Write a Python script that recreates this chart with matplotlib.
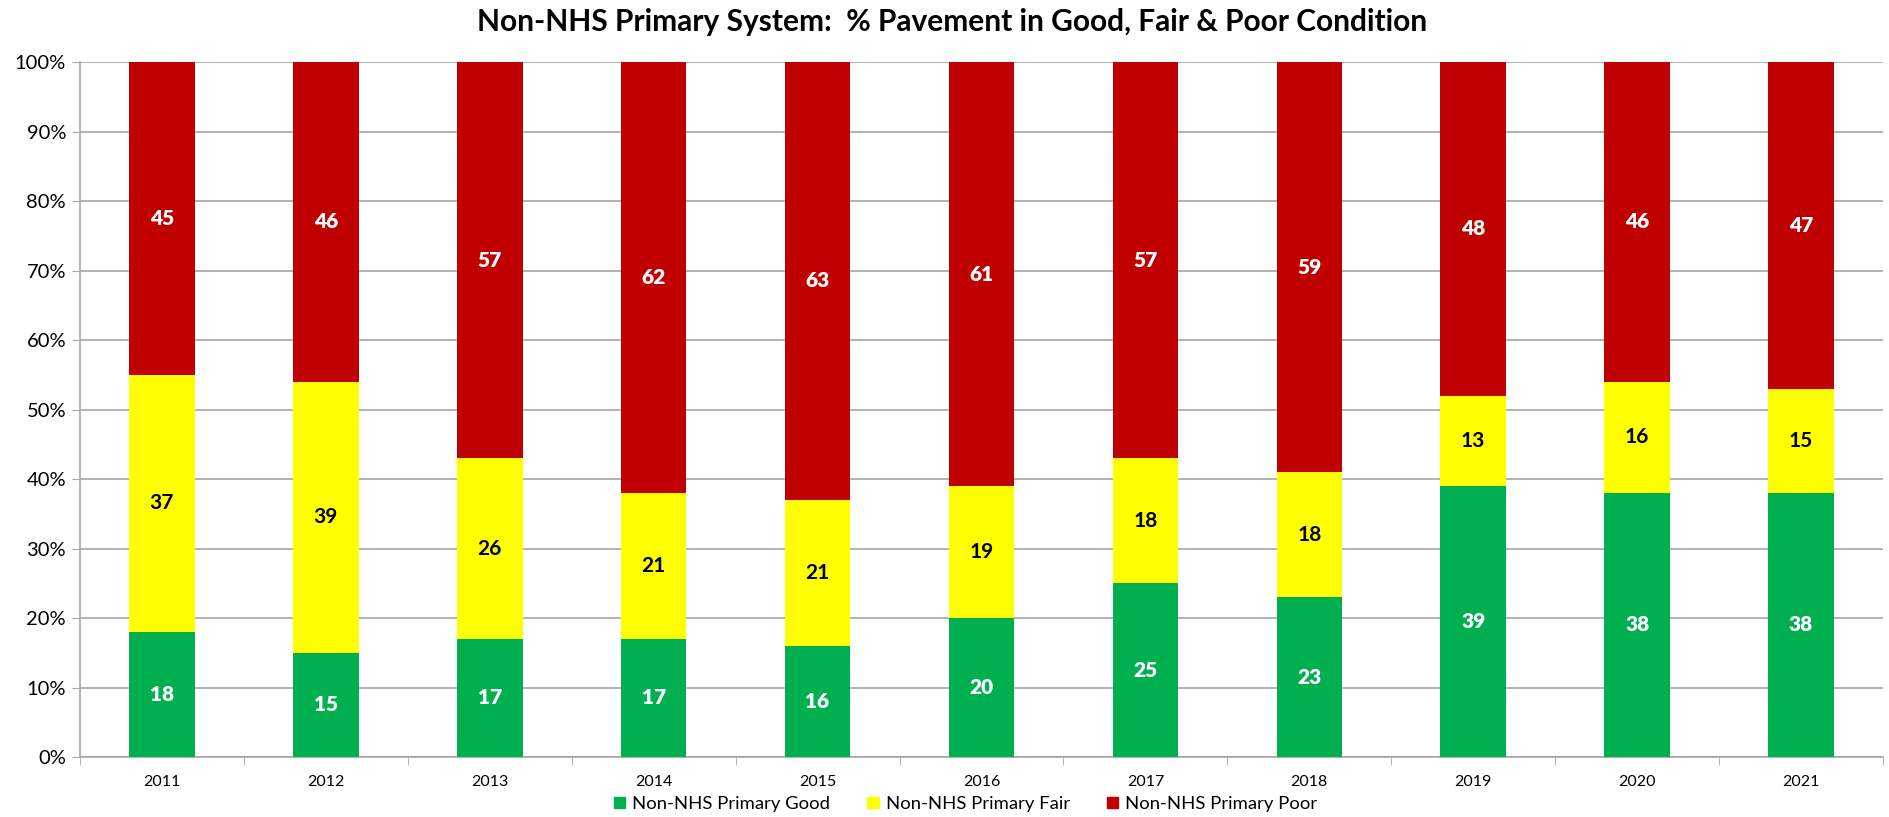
import matplotlib.pyplot as plt
import numpy as np
from matplotlib.patches import Patch

years = ['2011', '2012', '2013', '2014', '2015', '2016', '2017', '2018', '2019', '2020', '2021']
good = [18, 15, 17, 17, 16, 20, 25, 23, 39, 38, 38]
fair = [37, 39, 26, 21, 21, 19, 18, 18, 13, 16, 15]
poor = [45, 46, 57, 62, 63, 61, 57, 59, 48, 46, 47]

c_good = '#00B050'
c_fair = '#FFFF00'
c_poor = '#C00000'

plt.rcParams['font.family'] = ['Lato', 'DejaVu Sans']

fig = plt.figure(figsize=(18.9, 8.17), dpi=100)
ax = fig.add_axes([0.0423, 0.0734, 0.954, 0.8506])

x = np.arange(len(years))
w = 0.40
good = np.array(good)
fair = np.array(fair)
poor = np.array(poor)

ax.bar(x, good, w, color=c_good, zorder=3, label='Non-NHS Primary Good')
ax.bar(x, fair, w, bottom=good, color=c_fair, zorder=3, label='Non-NHS Primary Fair')
ax.bar(x, poor, w, bottom=good + fair, color=c_poor, zorder=3, label='Non-NHS Primary Poor')

# data labels
for i in range(len(years)):
    ax.text(x[i], good[i] / 2, str(good[i]), ha='center', va='center',
            color='white', fontsize=15, fontweight='heavy', zorder=4)
    ax.text(x[i], good[i] + fair[i] / 2, str(fair[i]), ha='center', va='center',
            color='black', fontsize=15, fontweight='bold', zorder=4)
    ax.text(x[i], good[i] + fair[i] + poor[i] / 2, str(poor[i]), ha='center', va='center',
            color='white', fontsize=15, fontweight='heavy', zorder=4)

ax.set_xlim(-0.5, len(years) - 0.5)
ax.set_ylim(0, 100)
ax.set_yticks(np.arange(0, 101, 10))
ax.set_yticklabels([f'{v}%' for v in range(0, 101, 10)], fontsize=14.5)
ax.yaxis.grid(True, color='#A6A6A6', linewidth=1.2, zorder=0)

ax.set_xticks(x)
ax.set_xticklabels(years, fontsize=11.5)
ax.tick_params(axis='x', which='major', length=0, pad=13)
ax.set_xticks(np.arange(-0.5, len(years), 1), minor=True)
ax.tick_params(axis='x', which='minor', length=6, color='#A6A6A6', direction='out')
ax.tick_params(axis='y', length=6, color='#A6A6A6', pad=4)

for s in ['top', 'right']:
    ax.spines[s].set_visible(False)
for s in ['left', 'bottom']:
    ax.spines[s].set_color('#A6A6A6')
    ax.spines[s].set_linewidth(1.2)

fig.text(0.504, 0.973, 'Non-NHS Primary System:  % Pavement in Good, Fair & Poor Condition',
         fontsize=21.5, fontweight='bold', ha='center', va='center')

handles = [Patch(color=c_good), Patch(color=c_fair), Patch(color=c_poor)]
labels = ['Non-NHS Primary Good', 'Non-NHS Primary Fair', 'Non-NHS Primary Poor']
fig.legend(handles, labels, loc='center', bbox_to_anchor=(0.511, 0.016), ncol=3,
           frameon=False, fontsize=13.3, handlelength=0.6, handleheight=0.6,
           handletextpad=0.4, columnspacing=2.0)

plt.savefig('out.png')
